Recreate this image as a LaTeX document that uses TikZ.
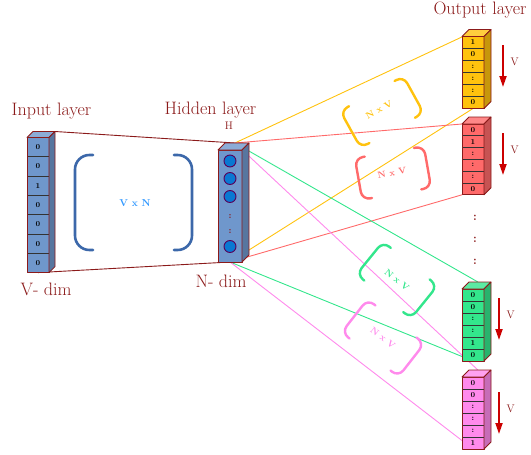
\documentclass[tikz,border=0pt]{standalone}
\usepackage{amsmath}
\usepackage{xcolor}
\usetikzlibrary{arrows.meta,backgrounds}
\definecolor{darkred}{HTML}{8B1A1A}
\definecolor{colblue}{HTML}{6F97CC}
\definecolor{colyellow}{HTML}{FFC20E}
\definecolor{colred}{HTML}{FF6A6A}
\definecolor{colgreen}{HTML}{33E68C}
\definecolor{colpink}{HTML}{FF8AEC}
\definecolor{brackblue}{HTML}{3C68AA}
\definecolor{textblue}{HTML}{3399FF}
\definecolor{unitblue}{HTML}{0A78D2}
\definecolor{arrowred}{HTML}{CC0000}
\tikzset{
  layer label/.style={text=darkred, font=\fontsize{18}{21}\selectfont, anchor=base},
  small label/.style={text=darkred, font=\fontsize{11}{13}\selectfont},
  cell entry/.style={font=\fontsize{7.5}{8}\bfseries\selectfont, inner sep=0pt},
  col frame/.style={draw=darkred, line width=0.8pt, line join=round},
  unit/.style={circle, draw=violet!70!black, fill=unitblue, line width=0.9pt, minimum size=12pt, inner sep=0pt},
  link/.style={line width=0.9pt},
  down arrow/.style={arrowred, line width=1.8pt, -{Triangle[length=11pt, width=7pt]}},
  vdots/.style={text=darkred, font=\fontsize{12}{12}\bfseries\selectfont, inner sep=0pt},
  size tag/.style={font=\fontsize{9}{10}\bfseries\selectfont, inner sep=0pt},
}

% #1 name, #2 x, #3 y (front top), #4 width, #5 cell height, #6 depth, #7 colour, #8 cells, #9 entries
\newcommand{\layercolumn}[9]{%
  \begin{scope}[shift={(#2,#3)}]
    \pgfmathsetmacro\colh{#5*#8}
    \fill[#7] (0,0) rectangle (#4,\colh);
    \ifnum#8>1
      \foreach \k in {2,...,#8}
        \draw[line width=1pt, black!80] (0,{(\k-1)*#5}) -- (#4,{(\k-1)*#5});
    \fi
    \draw[col frame] (0,0) rectangle (#4,\colh);
    \draw[col frame, fill=#7!80!white] (0,0) -- (#6,-#6) -- ({#4+#6},-#6) -- (#4,0) -- cycle;
    \draw[col frame, fill=#7!78!black] (#4,0) -- ({#4+#6},-#6) -- ({#4+#6},{\colh-#6}) -- (#4,\colh) -- cycle;
    \foreach \v [count=\k] in {#9}
      \node[cell entry] at ({#4/2},{(\k-0.5)*#5}) {\v};
    \coordinate (#1-top) at ({#4/2+#6*0.7},-#6);
    \coordinate (#1-ne) at ({#4+#6},-#6);
    \coordinate (#1-bot) at ({#4/2},\colh);
    \coordinate (#1-nw) at (0,0);
    \coordinate (#1-sw) at (0,\colh);
  \end{scope}}

% #1 centre, #2 angle, #3 half gap, #4 half height, #5 depth, #6 colour, #7 line width
\newcommand{\bracketpair}[7]{%
  \begin{scope}[shift={#1}, rotate=#2]
    \draw[#6, line width=#7, line cap=round, rounded corners={0.8*#5pt}]
      ({-#3+#5},-#4) -- (-#3,-#4) -- (-#3,#4) -- ({-#3+#5},#4);
    \draw[#6, line width=#7, line cap=round, rounded corners={0.8*#5pt}]
      ({#3-#5},-#4) -- (#3,-#4) -- (#3,#4) -- ({#3-#5},#4);
  \end{scope}}

\begin{document}
\begin{tikzpicture}[x=1pt, y=-1pt]
  \useasboundingbox (0,0) rectangle (531,455);

  % layer titles
  \node[layer label] (inlab) at (51.5,115) {Input layer};
  \node[layer label] (hidlab) at (210.5,114) {Hidden layer};
  \node[layer label] (outlab) at (480,15) {Output layer};
  \node[layer label] (vdim) at (46,295) {V- dim};
  \node[layer label] (ndim) at (221,287) {N- dim};
  \node[small label] (hname) at (229,125.5) {H};

  % columns
  \layercolumn{in}{27}{137.5}{22}{19.3}{6}{colblue}{7}{0,0,1,0,0,0,0}
  \layercolumn{hid}{218}{150}{24}{112}{7}{colblue}{1}{}
  \layercolumn{ye}{462}{36.5}{22}{12}{7}{colyellow}{6}{1,0,:,:,:,0}
  \layercolumn{re}{462}{124}{22}{11.8}{7}{colred}{6}{0,1,:,:,:,0}
  \layercolumn{gr}{462}{289}{22}{12}{7}{colgreen}{6}{0,0,:,:,1,0}
  \layercolumn{pk}{462}{377}{22}{12}{7}{colpink}{6}{0,0,:,:,:,1}

  % hidden units
  \node[unit] (h1) at (230,161) {};
  \node[unit] (h2) at (230,178.5) {};
  \node[unit] (h3) at (230,196.5) {};
  \node[unit] (h4) at (230,246.5) {};
  \node[vdots, font=\fontsize{9}{9}\bfseries\selectfont] (hd1) at (230,216.5) {:};
  \node[vdots, font=\fontsize{9}{9}\bfseries\selectfont] (hd2) at (230,232) {:};

  % dots between output columns
  \foreach \y [count=\i] in {218,240,262}
    \node[vdots] (od\i) at (475,\y) {:};

  % connections
  \begin{scope}[on background layer]
    \draw[link, darkred] (in-ne) -- (hid-top);
    \draw[link, darkred] (in-bot) -- (hid-bot);
    \draw[link, colyellow] (hid-top) -- (ye-top);
    \draw[link, colyellow] (hid-bot) -- (ye-bot);
    \draw[link, colred] (hid-top) -- (re-nw);
    \draw[link, colred] (hid-bot) -- (re-sw);
    \draw[link, colgreen] (hid-top) -- (gr-top);
    \draw[link, colgreen] (hid-bot) -- (gr-bot);
    \draw[link, colpink] (hid-top) -- (pk-top);
    \draw[link, colpink] (hid-bot) -- (pk-bot);
  \end{scope}

  % weight matrices
  \bracketpair{(133.5,202.5)}{0}{58.5}{47.5}{18}{brackblue}{2.6pt}
  \node[size tag, text=textblue, font=\fontsize{10}{11}\bfseries\selectfont] (wvn) at (135,203) {V x N};
  \bracketpair{(382,112)}{29}{36}{21}{10}{colyellow}{2.4pt}
  \node[size tag, text=colyellow, rotate=29] (wye) at (379,110) {N x V};
  \bracketpair{(393,173)}{10}{35}{21}{10}{colred}{2.4pt}
  \node[size tag, text=colred, rotate=10] (wre) at (392,173) {N x V};
  \bracketpair{(397,280)}{-39}{35}{21}{10}{colgreen}{2.4pt}
  \node[size tag, text=colgreen, rotate=-39] (wgr) at (397,280) {N x V};
  \bracketpair{(383,338)}{-38}{36}{21}{10}{colpink}{2.4pt}
  \node[size tag, text=colpink, rotate=-38] (wpk) at (383,338) {N x V};

  % direction arrows
  \foreach \c/\x/\ya/\yb in {ye/503/45/87, re/503/133/175, gr/499/298/340, pk/499/392/434} {
    \coordinate (\c-a) at (\x,\ya);
    \coordinate (\c-b) at (\x,\yb);
    \draw[down arrow] (\c-a) -- (\c-b);
    \node[small label, anchor=west] (\c-v) at (\x+4,{(\ya+\yb)/2-4}) {V};
  }
\end{tikzpicture}
\end{document}
